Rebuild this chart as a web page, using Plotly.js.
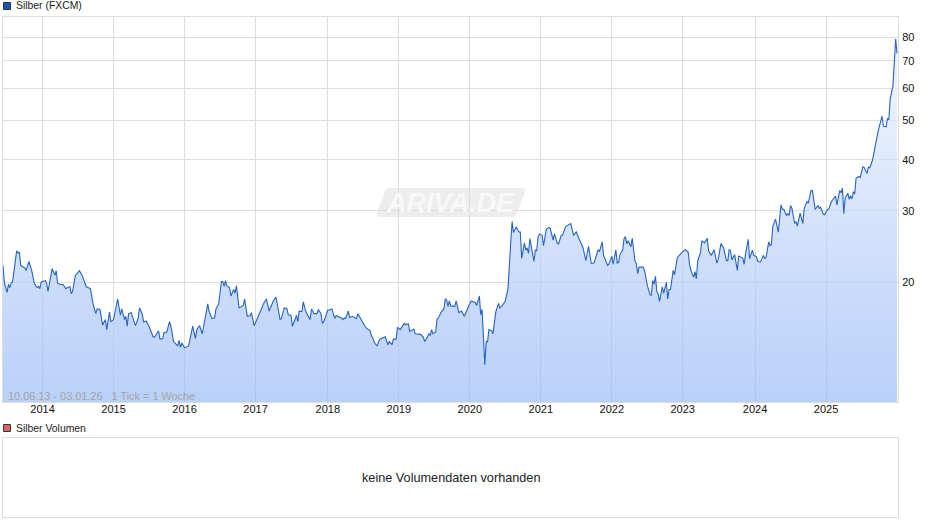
<!DOCTYPE html>
<html>
<head>
<meta charset="utf-8">
<script src="https://cdn.plot.ly/plotly-3.0.1.min.js"></script>
<style>html,body{margin:0;padding:0;background:#fff}#chart{width:940px;height:526px}</style>
</head>
<body>
<div id="chart"></div>
<script>
// Week number counted from the first week shown (10.06.13), with the price read for that week
const firstWeek = '2013-06-10';
const lastDay = '2026-01-03';
const weeks = [0,1,3,4,5,6,7,8,10,11,12,13,15,16,17,19,21,23,25,26,27,28,31,32,33,36,38,39,40,42,44,46,47,49,50,51,53,54,56,58,59,61,64,66,68,69,71,73,75,76,78,79,81,84,86,87,89,90,91,92,94,95,97,99,100,102,103,105,107,110,111,114,115,117,118,120,122,123,125,128,129,130,131,133,136,139,141,142,144,146,147,150,151,153,155,156,158,160,161,162,163,164,166,167,169,170,171,173,176,177,179,181,182,184,186,188,189,191,193,195,198,200,203,204,206,208,209,211,212,214,215,216,217,218,219,220,222,225,226,228,230,231,233,234,235,238,239,241,243,244,247,248,249,250,251,253,254,256,258,259,260,262,265,266,269,270,271,272,274,276,278,280,282,283,285,286,288,289,291,292,294,295,297,298,301,302,304,306,308,309,311,312,313,314,315,317,318,319,321,323,324,325,326,327,328,331,332,334,336,338,341,343,346,347,349,350,351,353,354,355,356,358,359,361,363,364,366,368,370,371,372,373,374,376,378,379,380,382,383,384,385,386,389,390,391,392,393,395,396,398,400,401,403,404,406,407,409,410,412,414,416,418,420,422,423,425,427,429,431,433,434,436,437,439,440,443,444,446,447,449,450,451,452,454,455,456,457,458,460,461,463,464,465,466,469,470,472,474,475,476,477,478,479,480,481,483,484,486,487,488,489,491,492,494,495,497,498,500,502,503,504,506,507,508,509,511,512,514,516,517,519,521,523,524,526,528,530,531,532,533,534,536,538,539,542,543,544,546,547,549,550,552,553,555,557,558,559,561,562,563,564,566,568,570,571,572,574,575,576,577,578,580,581,582,584,586,587,589,590,592,593,595,597,598,599,601,602,604,605,607,610,611,613,614,615,616,617,619,620,621,622,623,624,625,627,628,630,631,633,634,635,637,639,641,644,645,647,648,649,650,652,653,654,655];
const prices = [22.0,20,18.9,19.8,19.4,19.9,20.05,21.1,23.9,23.6,23.7,22.0,21.8,21.7,21.4,22.5,21.4,19.85,19.4,19.55,19.3,20.05,20.2,19.85,19.0,21.6,20.8,21.35,19.9,19.75,19.75,19.3,19.4,19.5,18.75,19,20.8,21.0,21.35,20.8,20.3,19.5,19.3,17.7,16.75,17.2,17.15,15.7,16.2,15.3,16.9,16.0,16.2,18.2,16.6,17.2,16.2,16.5,15.6,16.75,16.85,16.45,15.65,16.3,17.3,16.75,16.0,16.05,15.6,14.7,14.65,15.2,14.5,14.55,15.05,15.1,16,15.6,14.3,13.95,14.4,13.85,14.2,13.8,13.95,15.6,14.55,15.3,15.65,14.95,15.65,17.7,17,16.3,16.35,17.2,17.7,20.1,20.1,19.55,20.2,19.6,19.4,18.5,19.2,18.8,19.6,17.3,17.55,18.2,16.5,16.55,16.85,15.65,16.2,16.9,17.1,17.75,18.2,17,18,18.4,16.2,16.3,17.3,17.25,16.65,16.6,15.6,16.2,16.6,16,17,16.95,16.95,17.9,16.9,16.2,17.2,16.75,16.75,17.15,16.75,15.85,16,17.1,17.1,17.2,16.3,16.55,16.35,16.35,16.2,16.35,16.3,17,16.4,16.5,16.35,16.3,16.75,16.25,15.65,15.45,15.2,14.75,14.6,14.25,13.95,14.5,14.6,14.7,14.05,14.3,14.05,14.5,14.5,15.5,15.3,15.45,15.85,15.75,15.8,15.15,15.35,14.95,14.9,14.9,14.65,14.3,14.7,14.95,14.8,15.3,14.95,15.1,16.25,16.35,16.9,17.2,18.2,18.1,17.45,18.0,17.5,17.45,18,16.85,17,16.5,17.45,18,17.85,17.55,18.5,16.65,17.15,12.55,14.3,14.3,15.3,15.2,14.95,16.9,17.75,17.3,17.55,18,19.3,23.0,25.1,28.2,26.5,27.35,26.6,26.6,22.9,25,24,24.3,23.55,25.6,22.5,24,23.9,25.8,26.3,26.1,24.6,27,27.3,27.1,25.4,26.3,25,24.85,26.1,26.1,27.35,27.65,27.9,26.1,26.6,25.6,25.2,24.3,22.6,24.5,22.25,22.3,22.85,24.05,23.8,25.15,23.3,22.0,22.2,23.2,22.15,24.05,22.3,22.4,23.4,24,25.6,25.9,24.85,25.3,24.45,25.65,22.6,22.2,21,21.8,21.8,21.4,19.7,18.65,18.6,20.2,19.8,20.7,19,18.7,17.95,19.5,18.8,20,18.2,19.2,19.2,21.4,20.9,23,23.2,23.65,23.8,24.05,23.7,22.15,21.4,20.6,21.25,20.4,22.6,23.65,25.3,25,25.65,23.85,23.3,24.05,22.3,22.8,24.9,24.3,22.6,22.6,24.05,23.95,22.7,23.4,21.4,23.2,22.95,22.15,23.5,25.5,22.85,24,23.3,23.1,22.5,22.45,23.3,22.9,23,25.15,24.6,24.8,27.5,28.6,26.55,31,30.25,30.25,29.2,29.5,29.2,30.9,30.4,27.9,28.2,27.5,29.6,27.9,30.4,31.6,31.3,33.6,33.6,30.2,30.9,30.4,30.6,29.4,29.3,30.2,30.3,31.6,32.6,31,33.6,33.2,34.1,29.5,32.2,33.1,32,32.6,32.1,33.4,33,36.1,36.4,36.2,38.5,38.3,37,38.4,38.2,39.9,43,46.8,51.2,48.4,48.2,50.5,50.2,56.5,60.7,68.4,79.3,73];
const priceTicks = [20,30,40,50,60,70,80];
const priceTickLabels = ['20','30','40','50','60','70','80'];
// The ticks sit on the weekly bar that contains New Year
const yearTicks = ['2013-12-30','2014-12-29','2015-12-28','2016-12-26','2018-01-01','2018-12-31','2019-12-30','2020-12-28','2021-12-27','2022-12-26','2024-01-01','2024-12-30'];
const yearLabels = ['2014','2015','2016','2017','2018','2019','2020','2021','2022','2023','2024','2025'];
const priceLow = 10.16, priceHigh = 89.77;

const W = 940, H = 526, L = 3, R = 898, T = 17, B = 517;
const px = v => (v - L) / (R - L);          // page pixel -> paper x
const py = v => (B - v) / (B - T);          // page pixel -> paper y
const FONT = '"Liberation Sans", Arial, sans-serif';
const GRID = '#dcdcdc';

const startMs = Date.parse(firstWeek + 'T00:00:00Z');
const dates = weeks.map(w => new Date(startMs + w * 7 * 86400000).toISOString().slice(0, 10));

const trace = {
  x: dates, y: prices, type: 'scatter', mode: 'lines',
  line: {color: '#2563c4', width: 1.1},
  fill: 'tozeroy',
  fillgradient: {type: 'vertical', start: priceHigh, stop: priceLow,
    colorscale: [[0, 'rgba(240,246,255,0.7)'], [1, 'rgba(155,188,246,0.7)']]},
  hoverinfo: 'skip', showlegend: false
};
const dummy = {x: [firstWeek, lastDay], y: [0, 1], xaxis: 'x2', yaxis: 'y2', type: 'scatter', mode: 'none', hoverinfo: 'skip', showlegend: false};

const swatch = (y0, y1, color) => ({type: 'rect', xref: 'paper', yref: 'paper', x0: px(3.5), x1: px(10.5), y0: py(y0), y1: py(y1),
  fillcolor: color, line: {color: '#333333', width: 1}, layer: 'above'});
const text = (x, y, s, size, color, anchor, extra) => Object.assign({xref: 'paper', yref: 'paper', x: px(x), y: py(y), text: s, showarrow: false,
  xanchor: anchor, yanchor: 'middle', font: {family: FONT, size: size, color: color}}, extra || {});

const layout = {
  width: W, height: H, autosize: false,
  margin: {l: L, r: W - R, t: T, b: H - B, pad: 0},
  paper_bgcolor: '#ffffff', plot_bgcolor: '#ffffff',
  xaxis: {type: 'date', range: [firstWeek, lastDay], tickmode: 'array', tickvals: yearTicks, ticktext: yearLabels,
    showgrid: true, gridcolor: GRID, gridwidth: 1, showline: true, linecolor: GRID, linewidth: 1, mirror: true,
    zeroline: false, ticks: '', ticklabelstandoff: -3, tickfont: {family: FONT, size: 11, color: '#111111'}, anchor: 'y', automargin: false},
  yaxis: {type: 'log', domain: [(B - 402) / (B - T), 1], range: [Math.log10(priceLow), Math.log10(priceHigh)], side: 'right',
    tickmode: 'array', tickvals: priceTicks, ticktext: priceTickLabels,
    showgrid: true, gridcolor: GRID, gridwidth: 1, showline: true, linecolor: GRID, linewidth: 1, mirror: true,
    zeroline: false, ticks: '', ticklabelstandoff: 1, tickfont: {family: FONT, size: 11, color: '#111111'}, automargin: false},
  xaxis2: {type: 'date', range: [firstWeek, lastDay], anchor: 'y2', showgrid: false, showticklabels: false, ticks: '',
    showline: true, linecolor: GRID, linewidth: 1, mirror: true, zeroline: false},
  yaxis2: {domain: [0, (B - 438) / (B - T)], range: [0, 1], showgrid: false, showticklabels: false, ticks: '',
    showline: true, linecolor: GRID, linewidth: 1, mirror: true, zeroline: false},
  shapes: [
    swatch(2.5, 9.5, '#1c56b4'),
    swatch(424.5, 431.5, '#d96464'),
    {type: 'path', xref: 'paper', yref: 'paper', layer: 'below', fillcolor: '#ededed', line: {width: 0},
      path: `M ${px(388)} ${py(188)} L ${px(522)} ${py(188)} Q ${px(526)} ${py(188)} ${px(525)} ${py(192)} L ${px(517)} ${py(213)} Q ${px(516)} ${py(217)} ${px(512)} ${py(217)} L ${px(380)} ${py(217)} Q ${px(376)} ${py(217)} ${px(377)} ${py(213)} L ${px(385)} ${py(191)} Q ${px(386)} ${py(188)} ${px(388)} ${py(188)} Z`}
  ],
  annotations: [
    text(14, 6, 'Silber (FXCM)', 10.4, '#222222', 'left'),
    text(14, 428, 'Silber Volumen', 10.4, '#222222', 'left'),
    text(451, 477.5, 'keine Volumendaten vorhanden', 12.7, '#222222', 'center'),
    text(6, 395.5, '10.06.13 - 03.01.26 &nbsp; 1 Tick = 1 Woche', 10.9, '#a5a5a5', 'left'),
    text(450, 203, '<b><i>ARIVA.DE</i></b>', 27, '#f8f8f8', 'center')
  ],
  showlegend: false, hovermode: false
};
Plotly.newPlot('chart', [trace, dummy], layout, {displayModeBar: false, staticPlot: true, responsive: false});
</script>
</body>
</html>
